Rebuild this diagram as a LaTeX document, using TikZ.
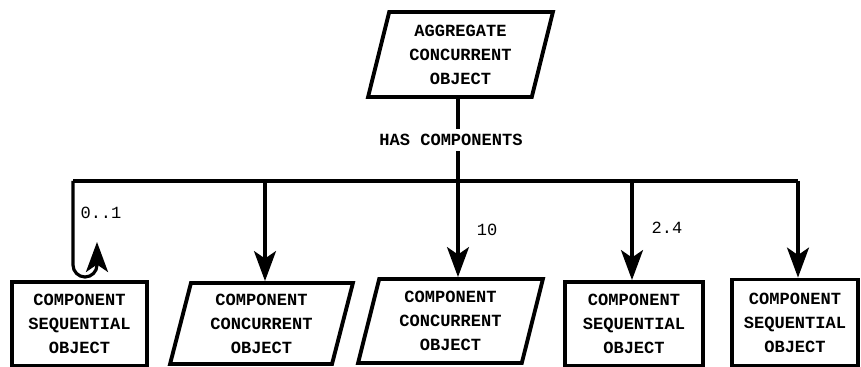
\documentclass[tikz,border=0pt]{standalone}
\usepackage{fontspec}
\setmonofont{Liberation Mono}
\usetikzlibrary{positioning,calc,shapes.geometric,arrows.meta}

\begin{document}
\begin{tikzpicture}
	% Configurable lengths
	\def\busY{3.72}
	\def\boxHeight{1.68cm}
	\def\loopRadius{0.24}

	% Styles
	\tikzstyle{object}=[draw, line width=2.2pt, align=center, font={\ttfamily\bfseries\fontsize{9.7}{13.6}\selectfont}, inner sep=1pt]
	\tikzstyle{concurrent}=[object, trapezium, trapezium left angle=76, trapezium right angle=104, trapezium stretches=true, minimum height=\boxHeight]
	\tikzstyle{sequential}=[object, rectangle, minimum height=\boxHeight]
	\tikzstyle{line}=[line width=1.8pt]
	\tikzstyle{arrow}=[line, -{Stealth[length=0.6cm, width=0.44cm, inset=0.15cm]}]
	\tikzstyle{label}=[font={\ttfamily\fontsize{9.7}{12}\selectfont}, inner sep=1pt]

	\useasboundingbox (0,0) rectangle (17.22,7.34);

	% Aggregate
	\node[concurrent, minimum width=3.7cm, minimum height=1.7cm] (aggregate) at (9.21,6.25) {AGGREGATE\\CONCURRENT\\OBJECT};
	\node[object, draw=none, fill=white, inner sep=2pt] (has) at (9.02,4.54) {HAS COMPONENTS};

	% Components
	\node[sequential, minimum width=2.7cm] (seqA) at (1.59,0.86) {COMPONENT\\SEQUENTIAL\\OBJECT};
	\node[concurrent, minimum width=3.66cm, minimum height=1.62cm] (conA) at (5.23,0.87) {COMPONENT\\CONCURRENT\\OBJECT};
	\node[concurrent, minimum width=3.7cm] (conB) at (9.01,0.92) {COMPONENT\\CONCURRENT\\OBJECT};
	\node[sequential, minimum width=2.76cm] (seqB) at (12.68,0.86) {COMPONENT\\SEQUENTIAL\\OBJECT};
	\node[sequential, minimum width=2.52cm, minimum height=1.72cm] (seqC) at (15.9,0.89) {COMPONENT\\SEQUENTIAL\\OBJECT};

	% Bus
	\coordinate (busL) at (1.46,\busY);
	\coordinate (busR) at (15.96,\busY);
	\coordinate (busA) at (5.30,\busY);
	\coordinate (busB) at (9.16,\busY);
	\coordinate (busC) at (12.64,\busY);

	\draw[line] (aggregate.south -| busB) -- (busB |- has.north);
	\draw[line] (busB |- has.south) -- (busB);
	\draw[line] (busL) -- (busR);

	% Arrows
	\draw[arrow] (busL) -- (1.46,2.04) arc[start angle=180, end angle=360, radius=\loopRadius] -- (1.94,2.5);
	\draw[arrow] (busA) -- (busA |- conA.north);
	\draw[arrow] (busB) -- (busB |- conB.north);
	\draw[arrow] (busC) -- (busC |- seqB.north);
	\draw[arrow] (busR) -- (busR |- seqC.north);

	% Multiplicities
	\node[label] at (2.02,3.08) {0..1};
	\node[label] at (9.74,2.74) {10};
	\node[label] at (13.34,2.78) {2.4};
\end{tikzpicture}
\end{document}
